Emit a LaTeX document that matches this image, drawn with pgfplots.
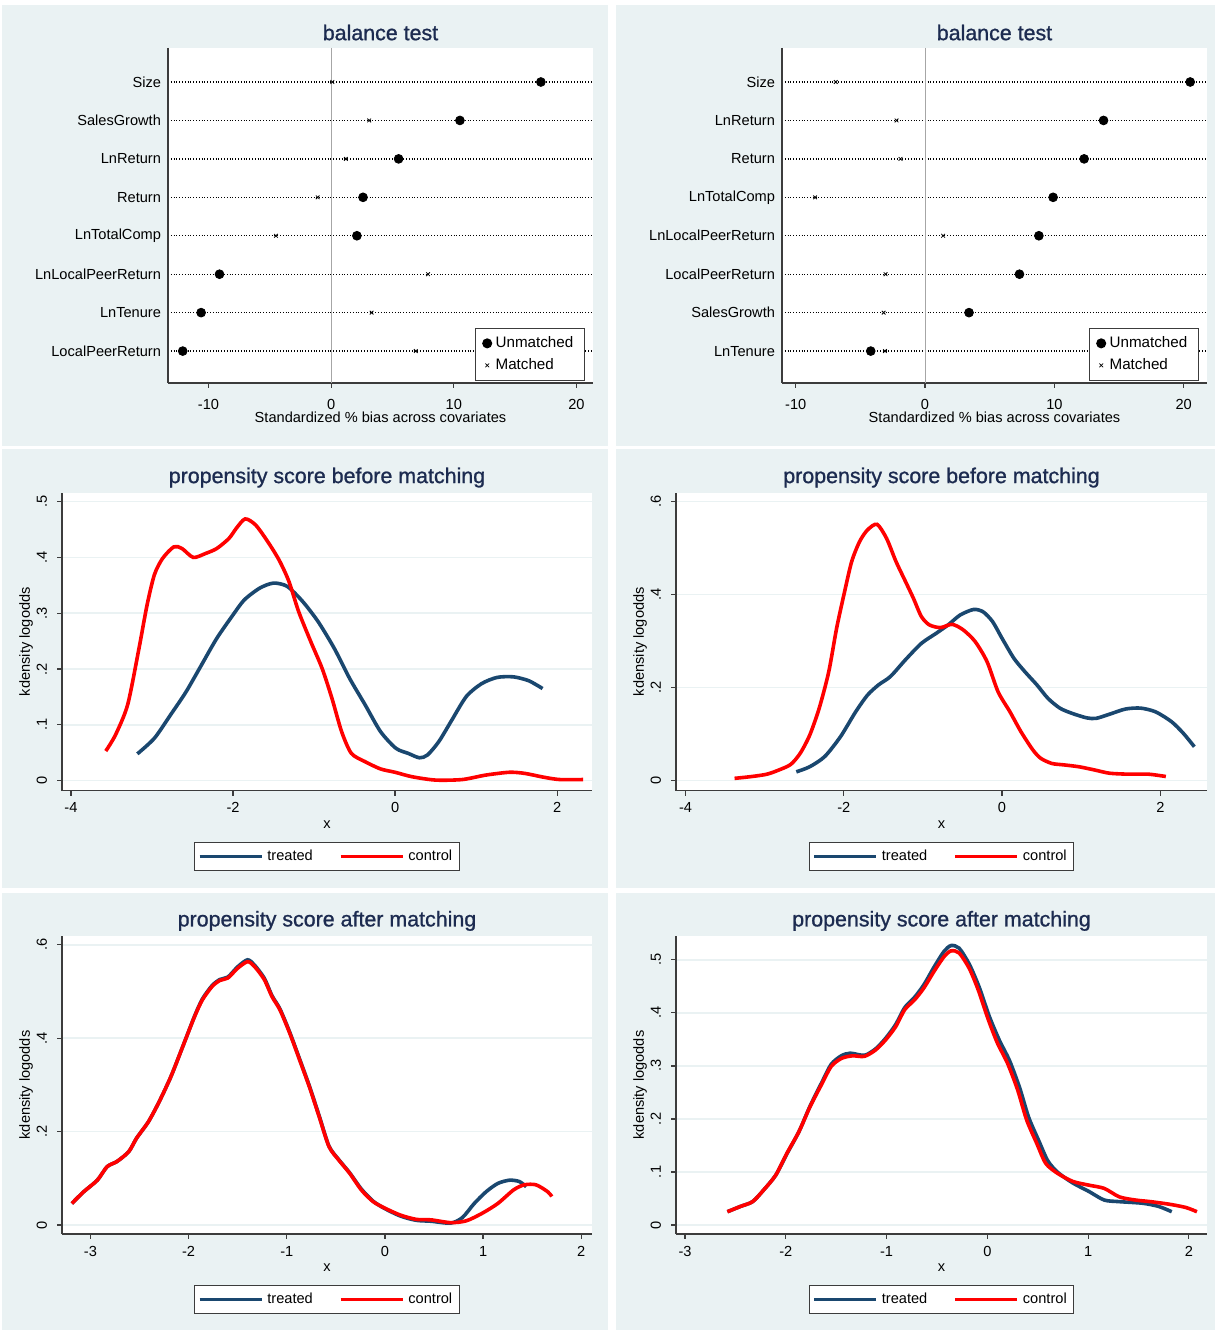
\documentclass[border=0pt]{standalone}
\usepackage{pgfplots}
\pgfplotsset{compat=1.18}
\usepackage{fontspec}
\setmainfont{Liberation Sans}
\newfontfamily\titlefamily[FakeBold=1]{Liberation Sans}
\definecolor{bgcol}{RGB}{234,242,243}
\definecolor{gridcol}{RGB}{234,242,243}
\definecolor{titlecol}{RGB}{28,43,80}
\definecolor{navy}{RGB}{26,71,111}
\definecolor{axcol}{RGB}{60,60,60}
\newcommand{\smallf}{\fontsize{7.3}{8.5}\selectfont}
\newcommand{\titlef}{\titlefamily\fontsize{10.7}{12.5}\selectfont}
\pgfplotsset{
  stata/.style={
    scale only axis,
    axis lines*=left,
    axis line style={-, axcol, line width=0.8pt},
    tick align=outside,
    major tick length=2.5pt,
    tick style={axcol, line width=0.6pt},
    axis background/.style={fill=white},
    font=\smallf,
    tick label style={font=\smallf, black},
    label style={font=\smallf, black},
    /pgf/number format/assume math mode=true,
    title style={font=\titlef, color=titlecol, anchor=base, at={(0.5,1)}},
  },
  balance/.style={
    stata,
    width=212.5pt, height=167.5pt,
    y dir=reverse,
    ymin=0.115, ymax=8.83,
    ytick={1,2,3,4,5,6,7,8},
    ytick style={draw=none},
    yticklabel style={xshift=2.5pt},
    xticklabel style={yshift=-2pt},
    ymajorgrids,
    major grid style={densely dotted, black, line width=0.7pt},
    xtick={-10,0,10,20},
    xlabel={Standardized \% bias across covariates},
    xlabel style={yshift=5.5pt},
    title={balance test},
    title style={yshift=-2.1pt},
    legend style={at={(0.981,0.006)}, anchor=south east, draw=axcol, line width=0.6pt,
      font=\fontsize{7.6}{8.8}\selectfont, fill=white, inner xsep=3.5pt, inner ysep=2pt, row sep=0pt,
      cells={anchor=west}},
  },
  dens/.style={
    stata,
    ymajorgrids,
    major grid style={gridcol, line width=0.8pt},
    yticklabel style={rotate=90, anchor=south, yshift=1.5pt},
    xlabel={x},
    ylabel={kdensity logodds},
    xlabel shift=-3pt,
    ylabel shift=-5pt,
    title style={yshift=-1.2pt},
    legend columns=2,
    legend style={at={(0.5,-0.172)}, anchor=north, draw=axcol, line width=0.6pt,
      font=\smallf, fill=white, inner sep=1.5pt,
      /tikz/every even column/.append style={column sep=11pt}},
    legend image code/.code={\draw[#1] (0pt,0pt) -- (31pt,0pt);},
  },
  treated/.style={navy, line width=1.8pt, smooth, tension=0.45, no marks},
  control/.style={red, line width=1.8pt, smooth, tension=0.45, no marks},
}
\begin{document}
\begin{tikzpicture}
\useasboundingbox (0pt,0pt) rectangle (607.5pt,666pt);
\fill[white] (0pt,0pt) rectangle (607.5pt,666pt);
% panel backgrounds
\fill[bgcol] (1pt,443pt) rectangle (304pt,663.5pt);
\fill[bgcol] (308pt,443pt) rectangle (607.5pt,663.5pt);
\fill[bgcol] (1pt,222pt) rectangle (304pt,441.5pt);
\fill[bgcol] (308pt,222pt) rectangle (607.5pt,441.5pt);
\fill[bgcol] (1pt,1pt) rectangle (304pt,219.5pt);
\fill[bgcol] (308pt,1pt) rectangle (607.5pt,219.5pt);

% ---------------- Panel 1 ----------------
\begin{axis}[balance, at={(84pt,474.5pt)}, anchor=south west,
  xmin=-13.3, xmax=21.35,
  yticklabels={Size,SalesGrowth,LnReturn,Return,LnTotalComp,LnLocalPeerReturn,LnTenure,LocalPeerReturn}]
\addplot[gray!70, line width=0.5pt, forget plot] coordinates {(0,0.115) (0,8.83)};
\addplot[only marks, mark=*, black, mark size=2.2pt] coordinates {
 (17.1,1) (10.5,2) (5.5,3) (2.6,4) (2.1,5) (-9.1,6) (-10.6,7) (-12.1,8)};
\addplot[only marks, mark=x, black, mark size=1.3pt, line width=0.4pt] coordinates {
 (0.1,1) (3.1,2) (1.2,3) (-1.1,4) (-4.5,5) (7.9,6) (3.3,7) (6.9,8)};
\legend{Unmatched,Matched}
\end{axis}

% ---------------- Panel 2 ----------------
\begin{axis}[balance, at={(391pt,474.5pt)}, anchor=south west,
  xmin=-11.06, xmax=21.8,
  yticklabels={Size,LnReturn,Return,LnTotalComp,LnLocalPeerReturn,LocalPeerReturn,SalesGrowth,LnTenure}]
\addplot[gray!70, line width=0.5pt, forget plot] coordinates {(0,0.115) (0,8.83)};
\addplot[only marks, mark=*, black, mark size=2.2pt] coordinates {
 (20.5,1) (13.8,2) (12.3,3) (9.9,4) (8.8,5) (7.3,6) (3.4,7) (-4.2,8)};
\addplot[only marks, mark=x, black, mark size=1.3pt, line width=0.4pt] coordinates {
 (-6.9,1) (-2.2,2) (-1.9,3) (-8.5,4) (1.4,5) (-3.05,6) (-3.2,7) (-3.1,8)};
\legend{Unmatched,Matched}
\end{axis}

% ---------------- Panel 3 ----------------
\begin{axis}[dens, at={(31pt,270.65pt)}, anchor=south west,
  width=265pt, height=149pt,
  xmin=-4.11, xmax=2.43, ymin=-0.018, ymax=0.516,
  xtick={-4,-2,0,2},
  ytick={0,0.1,0.2,0.3,0.4,0.5}, yticklabels={0,.1,.2,.3,.4,.5},
  title={propensity score before matching}]
\addplot[treated] coordinates {
 (-3.18,0.048) (-2.97,0.076) (-2.77,0.118) (-2.58,0.159) (-2.39,0.207) (-2.20,0.255)
 (-2.00,0.297) (-1.86,0.324) (-1.67,0.345) (-1.50,0.354) (-1.33,0.348) (-1.14,0.321)
 (-0.95,0.285) (-0.75,0.237) (-0.56,0.183) (-0.37,0.136) (-0.18,0.088) (0.01,0.058)
 (0.16,0.049) (0.30,0.041) (0.40,0.046) (0.54,0.070) (0.69,0.106) (0.88,0.151)
 (1.07,0.174) (1.26,0.185) (1.46,0.186) (1.65,0.179) (1.82,0.165)};
\addplot[control] coordinates {
 (-3.57,0.053) (-3.45,0.082) (-3.30,0.136) (-3.16,0.237) (-3.06,0.315) (-2.97,0.369)
 (-2.87,0.398) (-2.73,0.419) (-2.63,0.416) (-2.49,0.400) (-2.34,0.407) (-2.20,0.416)
 (-2.05,0.434) (-1.96,0.452) (-1.85,0.469) (-1.72,0.458) (-1.57,0.428) (-1.43,0.395)
 (-1.31,0.357) (-1.19,0.303) (-1.04,0.249) (-0.90,0.201) (-0.78,0.148) (-0.66,0.088)
 (-0.54,0.049) (-0.37,0.034) (-0.18,0.021) (0.00,0.015) (0.21,0.007) (0.50,0.001)
 (0.83,0.002) (1.12,0.010) (1.41,0.015) (1.60,0.013) (1.84,0.006) (2.03,0.002) (2.32,0.002)};
\legend{treated,control}
\end{axis}

% ---------------- Panel 4 ----------------
\begin{axis}[dens, at={(338pt,270.65pt)}, anchor=south west,
  width=265.5pt, height=149pt,
  xmin=-4.12, xmax=2.59, ymin=-0.0215, ymax=0.619,
  xtick={-4,-2,0,2},
  ytick={0,0.2,0.4,0.6}, yticklabels={0,.2,.4,.6},
  title={propensity score before matching}]
\addplot[treated] coordinates {
 (-2.60,0.019) (-2.43,0.030) (-2.24,0.052) (-2.04,0.095) (-1.85,0.148) (-1.70,0.184)
 (-1.56,0.206) (-1.41,0.224) (-1.22,0.260) (-1.02,0.295) (-0.83,0.317) (-0.68,0.335)
 (-0.53,0.356) (-0.36,0.368) (-0.24,0.363) (-0.12,0.342) (0.00,0.306) (0.15,0.263)
 (0.29,0.234) (0.44,0.206) (0.58,0.177) (0.73,0.156) (0.88,0.145) (1.07,0.135)
 (1.19,0.134) (1.36,0.143) (1.56,0.154) (1.75,0.156) (1.94,0.148) (2.14,0.127)
 (2.29,0.102) (2.43,0.073)};
\addplot[control] coordinates {
 (-3.38,0.005) (-3.16,0.009) (-2.97,0.014) (-2.82,0.023) (-2.67,0.035) (-2.55,0.059)
 (-2.43,0.098) (-2.31,0.156) (-2.19,0.234) (-2.09,0.328) (-1.99,0.406) (-1.90,0.471)
 (-1.80,0.514) (-1.70,0.539) (-1.58,0.551) (-1.46,0.521) (-1.34,0.471) (-1.22,0.428)
 (-1.12,0.392) (-1.02,0.353) (-0.92,0.335) (-0.78,0.329) (-0.63,0.336) (-0.49,0.324)
 (-0.34,0.299) (-0.19,0.256) (-0.05,0.191) (0.10,0.148) (0.24,0.105) (0.39,0.066)
 (0.49,0.048) (0.63,0.037) (0.78,0.034) (0.97,0.030) (1.17,0.023) (1.36,0.016)
 (1.60,0.014) (1.85,0.014) (2.07,0.009)};
\legend{treated,control}
\end{axis}

% ---------------- Panel 5 ----------------
\begin{axis}[dens, at={(31pt,49pt)}, anchor=south west,
  width=265pt, height=149pt,
  xmin=-3.29, xmax=2.11, ymin=-0.0193, ymax=0.619,
  xtick={-3,-2,-1,0,1,2},
  ytick={0,0.2,0.4,0.6}, yticklabels={0,.2,.4,.6},
  title={propensity score after matching}]
\addplot[treated] coordinates {
 (-3.19,0.046) (-3.07,0.071) (-2.93,0.096) (-2.83,0.125) (-2.73,0.136) (-2.61,0.157)
 (-2.53,0.186) (-2.41,0.221) (-2.30,0.264) (-2.18,0.318) (-2.06,0.382) (-1.94,0.447)
 (-1.86,0.484) (-1.76,0.513) (-1.68,0.526) (-1.60,0.531) (-1.50,0.553) (-1.40,0.568)
 (-1.33,0.557) (-1.23,0.529) (-1.15,0.491) (-1.07,0.463) (-0.97,0.413) (-0.87,0.356)
 (-0.77,0.298) (-0.67,0.234) (-0.57,0.169) (-0.47,0.140) (-0.36,0.112) (-0.24,0.077)
 (-0.12,0.051) (0.00,0.035) (0.16,0.019) (0.32,0.010) (0.47,0.008) (0.67,0.004)
 (0.79,0.016) (0.91,0.046) (1.03,0.071) (1.15,0.089) (1.27,0.096) (1.37,0.093) (1.44,0.082)};
\addplot[control] coordinates {
 (-3.19,0.046) (-3.07,0.071) (-2.93,0.096) (-2.83,0.125) (-2.73,0.136) (-2.61,0.157)
 (-2.53,0.186) (-2.41,0.221) (-2.30,0.264) (-2.18,0.318) (-2.06,0.382) (-1.94,0.446)
 (-1.86,0.482) (-1.76,0.511) (-1.68,0.524) (-1.60,0.529) (-1.50,0.550) (-1.40,0.564)
 (-1.33,0.554) (-1.23,0.526) (-1.15,0.489) (-1.07,0.461) (-0.97,0.411) (-0.87,0.354)
 (-0.77,0.296) (-0.67,0.232) (-0.57,0.168) (-0.47,0.139) (-0.36,0.111) (-0.24,0.075)
 (-0.12,0.050) (0.00,0.036) (0.16,0.021) (0.32,0.012) (0.47,0.011) (0.67,0.005)
 (0.83,0.009) (0.99,0.025) (1.15,0.046) (1.31,0.075) (1.42,0.086) (1.54,0.086)
 (1.66,0.071) (1.70,0.061)};
\legend{treated,control}
\end{axis}

% ---------------- Panel 6 ----------------
\begin{axis}[dens, at={(338pt,49pt)}, anchor=south west,
  width=265.5pt, height=149pt,
  xmin=-3.09, xmax=2.18, ymin=-0.017, ymax=0.545,
  xtick={-3,-2,-1,0,1,2},
  ytick={0,0.1,0.2,0.3,0.4,0.5}, yticklabels={0,.1,.2,.3,.4,.5},
  title={propensity score after matching}]
\addplot[treated] coordinates {
 (-2.58,0.025) (-2.45,0.035) (-2.33,0.044) (-2.22,0.066) (-2.10,0.094) (-1.99,0.134)
 (-1.87,0.176) (-1.76,0.224) (-1.64,0.270) (-1.55,0.303) (-1.45,0.319) (-1.36,0.324)
 (-1.22,0.320) (-1.11,0.332) (-1.01,0.352) (-0.91,0.378) (-0.82,0.410) (-0.72,0.430)
 (-0.63,0.453) (-0.53,0.486) (-0.43,0.516) (-0.36,0.527) (-0.28,0.522) (-0.18,0.492)
 (-0.08,0.448) (0.02,0.393) (0.12,0.348) (0.22,0.310) (0.32,0.259) (0.41,0.203)
 (0.51,0.159) (0.60,0.121) (0.70,0.099) (0.85,0.079) (1.01,0.063) (1.16,0.047)
 (1.31,0.044) (1.54,0.041) (1.70,0.035) (1.83,0.025)};
\addplot[control] coordinates {
 (-2.58,0.025) (-2.45,0.035) (-2.33,0.044) (-2.22,0.066) (-2.10,0.094) (-1.99,0.135)
 (-1.87,0.176) (-1.76,0.223) (-1.64,0.267) (-1.55,0.299) (-1.45,0.314) (-1.34,0.319)
 (-1.22,0.318) (-1.11,0.330) (-1.01,0.349) (-0.91,0.374) (-0.82,0.406) (-0.72,0.425)
 (-0.63,0.447) (-0.53,0.478) (-0.43,0.506) (-0.36,0.517) (-0.28,0.513) (-0.18,0.484)
 (-0.09,0.443) (0.01,0.387) (0.10,0.343) (0.20,0.305) (0.30,0.255) (0.39,0.198)
 (0.49,0.154) (0.58,0.116) (0.70,0.097) (0.85,0.082) (1.01,0.075) (1.16,0.069)
 (1.31,0.053) (1.47,0.047) (1.62,0.044) (1.81,0.039) (1.97,0.033) (2.08,0.025)};
\legend{treated,control}
\end{axis}
\end{tikzpicture}
\end{document}
